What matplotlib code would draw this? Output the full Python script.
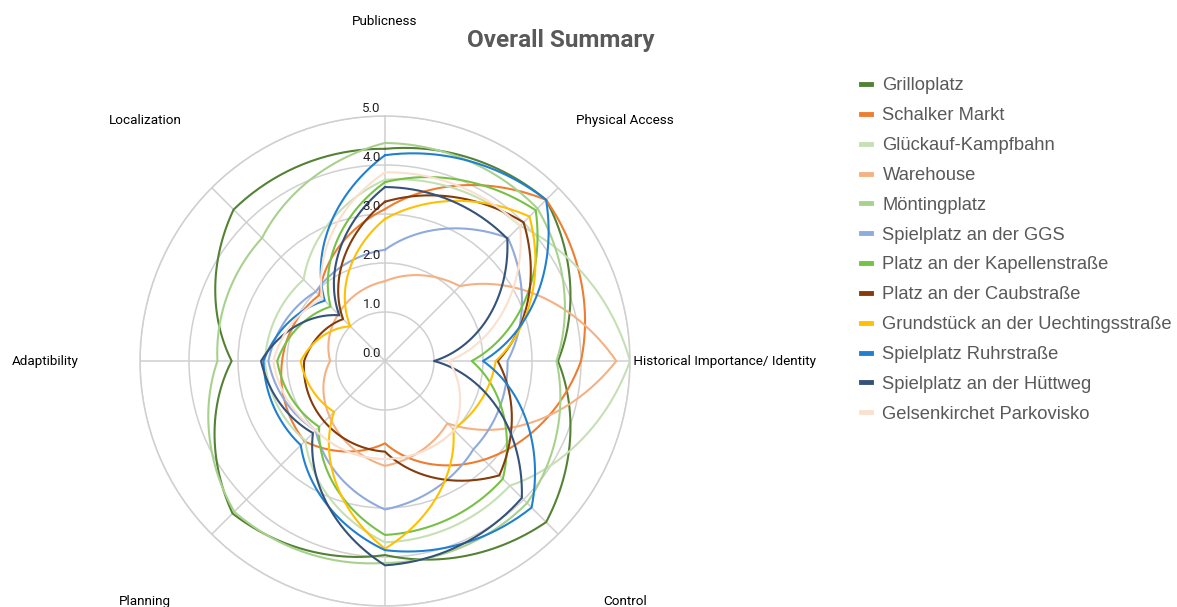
import numpy as np
import matplotlib
matplotlib.use("Agg")
import matplotlib.pyplot as plt
from matplotlib.lines import Line2D

# axes clockwise from the top; the bottom axis label is cut off in the source
categories = ["Publicness", "Physical Access", "Historical Importance/ Identity", "Control",
              "", "Planning", "Adaptibility", "Localization"]

grilloplatz = [4.33, 4.65, 3.53, 4.65, 3.96, 4.40, 3.13, 4.37]
schalker_markt = [3.10, 4.65, 4.00, 2.85, 1.68, 2.32, 2.10, 1.90]
glueckauf = [3.70, 3.90, 5.00, 3.60, 3.70, 2.30, 2.45, 2.35]
warehouse = [1.63, 2.16, 4.72, 1.80, 2.14, 1.60, 1.12, 1.35]
moentingplatz = [4.45, 4.40, 3.50, 4.10, 4.12, 4.35, 3.42, 3.55]
spielplatz_ggs = [2.27, 3.55, 2.50, 2.55, 3.03, 2.00, 2.38, 2.00]
kapellenstrasse = [3.65, 4.35, 1.77, 3.40, 3.55, 1.90, 2.20, 1.57]
caubstrasse = [3.25, 4.00, 2.30, 3.30, 1.85, 1.75, 1.65, 1.21]
uechtingsstrasse = [2.90, 4.17, 2.26, 1.97, 3.83, 1.47, 1.72, 1.00]
ruhrstrasse = [4.20, 4.65, 2.00, 4.23, 3.86, 2.43, 2.48, 1.74]
huettweg = [3.55, 3.53, 1.00, 3.95, 4.17, 2.08, 2.53, 1.32]
parkovisko = [3.85, 3.90, 1.30, 2.00, 2.00, 2.00, 2.28, 1.80]

series = [
    ("Grilloplatz", grilloplatz, "#548235"),
    ("Schalker Markt", schalker_markt, "#ed7d31"),
    ("Glückauf-Kampfbahn", glueckauf, "#c5e0b4"),
    ("Warehouse", warehouse, "#f4b183"),
    ("Möntingplatz", moentingplatz, "#a9d18e"),
    ("Spielplatz an der GGS", spielplatz_ggs, "#8faadc"),
    ("Platz an der Kapellenstraße", kapellenstrasse, "#77c145"),
    ("Platz an der Caubstraße", caubstrasse, "#843c0c"),
    ("Grundstück an der Uechtingsstraße", uechtingsstrasse, "#ffc000"),
    ("Spielplatz Ruhrstraße", ruhrstrasse, "#2080cf"),
    ("Spielplatz an der Hüttweg", huettweg, "#34527a"),
    ("Gelsenkirchet Parkovisko", parkovisko, "#fbe0cf"),
]

r_ticks = [0, 1, 2, 3, 4, 5]

W, H = 1177, 607
fig = plt.figure(figsize=(W / 100, H / 100), dpi=100)

# polar axes: centre at (385, 361) px, radius 245 px
cx, cy, R = 385, 361, 245
ax = fig.add_axes([(cx - R) / W, (H - cy - R) / H, 2 * R / W, 2 * R / H], projection="polar")
ax.set_theta_offset(np.pi / 2)
ax.set_theta_direction(-1)

angles = np.linspace(0, 2 * np.pi, len(categories), endpoint=False)

for name, vals, col in series:
    th = np.append(angles, 2 * np.pi)
    rr = np.append(vals, vals[0])
    ln, = ax.plot(th, rr, color=col, lw=1.5, label=name)
    # let the polar transform bend each segment (straight in theta-r space)
    ln.get_path()._interpolation_steps = 60

ax.set_ylim(0, 5)
ax.set_yticks(r_ticks[1:])
ax.set_yticklabels([])
ax.set_xticks(angles)
ax.set_xticklabels([])
ax.grid(True, color="#d0d0d0", lw=1.1)
ax.spines["polar"].set_color("#d0d0d0")
ax.spines["polar"].set_linewidth(1.1)

# radial tick labels along the top spoke
for v in r_ticks:
    ax.annotate(f"{v:.1f}", xy=(0, v), xytext=(-3, 1), textcoords="offset points",
                ha="right", va="bottom", fontsize=9.5, family="Roboto", color="#222222")

# category labels
for ang, lab in zip(angles, categories):
    if not lab:
        continue
    c, s = np.sin(ang), np.cos(ang)
    if abs(s) < 1e-6 and c > 0:
        ax.text(ang, 5.0, " " + lab, ha="left", va="center", fontsize=9.7, family="Roboto")
    elif abs(s) < 1e-6 and c < 0:
        ax.text(ang, 6.25, lab, ha="right", va="center", fontsize=9.7, family="Roboto")
    else:
        ax.text(ang, 6.93, lab, ha="center", va="center", fontsize=9.7, family="Roboto")

fig.text(561 / W, 1 - 40 / H, "Overall Summary", ha="center", va="center",
         fontsize=17.5, fontweight="bold", family="Roboto", color="#595959")

handles = [Line2D([], [], color=col, lw=3.5) for _, _, col in series]
fig.legend(handles, [n for n, _, _ in series], loc="upper left",
           bbox_to_anchor=(844 / W, 1 - 61 / H), frameon=False,
           handlelength=0.55, handletextpad=0.65, labelspacing=0.7,
           prop={"family": "Liberation Sans", "size": 13.2}, labelcolor="#595959")

fig.savefig("out.png", dpi=100)
